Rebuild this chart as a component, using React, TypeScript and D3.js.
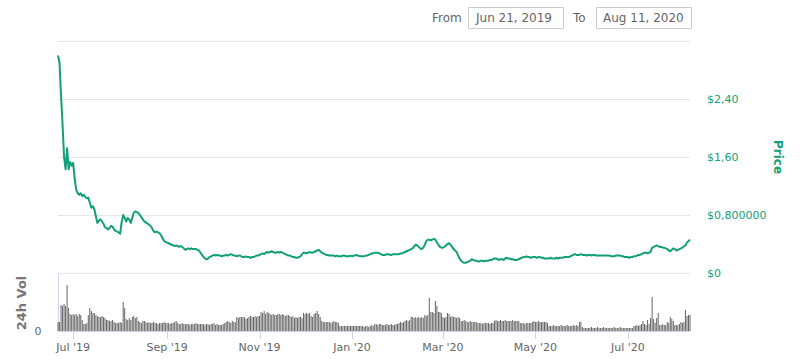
import React from "react";
import * as d3 from "d3";

// daily values from Jun 21, 2019 to Aug 11, 2020
const startDate = new Date(2019, 5, 21);
const endDate = new Date(2020, 7, 11);

const price = [
  3.0, 2.9, 2.45, 2.05, 1.6, 1.43, 1.72, 1.43, 1.53, 1.48, 1.52, 1.3, 1.15, 1.1, 1.08, 1.1, 1.06, 1.08, 1.05, 1.03,
  1.04, 0.97, 0.9, 0.92, 0.88, 0.78, 0.69, 0.72, 0.74, 0.71, 0.68, 0.63, 0.62, 0.6, 0.62, 0.65, 0.64, 0.6, 0.58, 0.57,
  0.56, 0.54, 0.7, 0.8, 0.76, 0.71, 0.76, 0.74, 0.69, 0.76, 0.83, 0.85, 0.84, 0.83, 0.8, 0.77, 0.74, 0.71, 0.7, 0.68,
  0.67, 0.65, 0.62, 0.58, 0.56, 0.57, 0.56, 0.55, 0.52, 0.48, 0.44, 0.43, 0.42, 0.41, 0.4, 0.39, 0.38, 0.37, 0.38, 0.37,
  0.36, 0.37, 0.36, 0.34, 0.32, 0.33, 0.34, 0.33, 0.34, 0.33, 0.33, 0.33, 0.32, 0.31, 0.28, 0.25, 0.22, 0.2, 0.19, 0.2,
  0.22, 0.23, 0.24, 0.25, 0.24, 0.25, 0.24, 0.24, 0.23, 0.24, 0.24, 0.25, 0.24, 0.25, 0.26, 0.25, 0.24, 0.24, 0.23, 0.24,
  0.24, 0.23, 0.22, 0.22, 0.23, 0.22, 0.22, 0.21, 0.22, 0.22, 0.23, 0.24, 0.24, 0.25, 0.26, 0.27, 0.26, 0.28, 0.29, 0.28,
  0.29, 0.3, 0.29, 0.28, 0.28, 0.29, 0.28, 0.29, 0.28, 0.27, 0.26, 0.25, 0.24, 0.24, 0.23, 0.22, 0.22, 0.21, 0.21, 0.22,
  0.23, 0.26, 0.28, 0.28, 0.27, 0.28, 0.29, 0.28, 0.28, 0.29, 0.3, 0.31, 0.32, 0.3, 0.28, 0.27, 0.26, 0.25, 0.25, 0.24,
  0.24, 0.24, 0.24, 0.23, 0.24, 0.23, 0.23, 0.23, 0.24, 0.24, 0.23, 0.23, 0.23, 0.24, 0.23, 0.24, 0.24, 0.25, 0.24, 0.23,
  0.23, 0.23, 0.23, 0.24, 0.24, 0.25, 0.26, 0.27, 0.27, 0.28, 0.28, 0.28, 0.27, 0.26, 0.25, 0.25, 0.25, 0.26, 0.26, 0.25,
  0.25, 0.26, 0.26, 0.26, 0.26, 0.26, 0.27, 0.27, 0.28, 0.29, 0.3, 0.31, 0.32, 0.33, 0.34, 0.37, 0.39, 0.38, 0.36, 0.34,
  0.33, 0.35, 0.39, 0.44, 0.46, 0.46, 0.45, 0.46, 0.47, 0.46, 0.42, 0.39, 0.36, 0.35, 0.35, 0.36, 0.38, 0.4, 0.41, 0.39,
  0.36, 0.33, 0.31, 0.29, 0.24, 0.2, 0.17, 0.15, 0.14, 0.14, 0.15, 0.16, 0.17, 0.19, 0.18, 0.17, 0.17, 0.16, 0.16, 0.17,
  0.17, 0.16, 0.17, 0.17, 0.17, 0.18, 0.18, 0.19, 0.2, 0.2, 0.19, 0.18, 0.19, 0.19, 0.18, 0.2, 0.21, 0.2, 0.2, 0.19,
  0.19, 0.18, 0.18, 0.18, 0.19, 0.2, 0.21, 0.22, 0.22, 0.23, 0.22, 0.22, 0.21, 0.22, 0.22, 0.22, 0.21, 0.22, 0.22, 0.21,
  0.21, 0.2, 0.2, 0.2, 0.2, 0.21, 0.2, 0.2, 0.2, 0.21, 0.2, 0.21, 0.21, 0.21, 0.22, 0.22, 0.22, 0.22, 0.23, 0.24,
  0.25, 0.26, 0.25, 0.25, 0.25, 0.26, 0.25, 0.25, 0.25, 0.24, 0.25, 0.25, 0.24, 0.25, 0.25, 0.24, 0.24, 0.24, 0.24, 0.24,
  0.24, 0.24, 0.24, 0.24, 0.24, 0.23, 0.23, 0.23, 0.24, 0.24, 0.24, 0.24, 0.23, 0.23, 0.22, 0.22, 0.22, 0.21, 0.22, 0.22,
  0.23, 0.23, 0.24, 0.25, 0.25, 0.26, 0.27, 0.28, 0.28, 0.27, 0.28, 0.29, 0.35, 0.36, 0.37, 0.38, 0.37, 0.36, 0.36, 0.35,
  0.35, 0.34, 0.33, 0.31, 0.3, 0.32, 0.34, 0.33, 0.31, 0.32, 0.33, 0.34, 0.35, 0.37, 0.38, 0.42, 0.44, 0.46,
];

// 24h volume, millions
const volume = [
  0.9, 0.9, 2.6, 2.5, 2.7, 2.5, 4.6, 2.3, 1.7, 1.6, 1.7, 1.6, 1.7, 1.5, 1.7, 1.6, 1.1, 0.7, 0.7, 0.8,
  1.6, 2.3, 2.0, 1.8, 1.8, 1.6, 1.5, 1.4, 1.4, 1.5, 1.4, 1.3, 1.1, 1.1, 1.0, 1.0, 1.1, 0.9, 0.8, 0.8,
  0.8, 0.9, 0.8, 2.9, 2.3, 1.2, 1.1, 1.3, 1.1, 1.4, 1.5, 1.3, 1.4, 1.0, 0.9, 0.8, 1.0, 1.0, 0.9, 0.8,
  0.9, 0.8, 0.8, 0.9, 0.8, 0.8, 0.7, 0.8, 0.8, 0.8, 0.9, 0.8, 0.8, 0.8, 0.7, 0.8, 0.8, 0.9, 1.0, 0.8,
  0.7, 0.7, 0.8, 0.7, 0.7, 0.7, 0.7, 0.6, 0.7, 0.7, 0.7, 0.8, 0.7, 0.7, 0.7, 0.7, 0.7, 0.6, 0.7, 0.7,
  0.6, 0.7, 0.7, 0.8, 0.6, 0.7, 0.6, 0.6, 0.6, 0.7, 0.8, 0.9, 1.0, 0.9, 0.8, 1.0, 0.9, 0.9, 1.4, 1.3,
  1.4, 1.4, 1.4, 1.4, 1.2, 1.3, 1.4, 1.5, 1.4, 1.4, 1.5, 1.4, 1.5, 1.5, 1.9, 1.8, 2.0, 1.7, 1.9, 1.8,
  1.7, 1.6, 1.7, 1.6, 1.6, 1.7, 1.7, 1.6, 1.7, 1.6, 1.5, 1.6, 1.6, 1.5, 1.4, 1.5, 1.3, 1.4, 1.3, 1.4,
  1.4, 1.3, 1.8, 1.7, 1.8, 1.7, 1.8, 1.5, 1.4, 1.7, 1.8, 2.0, 1.7, 1.4, 1.0, 0.9, 0.9, 0.9, 0.9, 0.9,
  0.8, 0.9, 1.0, 0.9, 0.9, 0.8, 0.5, 0.5, 0.5, 0.5, 0.5, 0.5, 0.5, 0.5, 0.5, 0.5, 0.5, 0.5, 0.5, 0.5,
  0.5, 0.5, 0.4, 0.5, 0.5, 0.4, 0.5, 0.6, 0.5, 0.7, 0.7, 0.6, 0.7, 0.7, 0.6, 0.6, 0.6, 0.7, 0.6, 0.6,
  0.7, 0.6, 0.6, 0.7, 0.7, 0.8, 0.9, 0.8, 0.9, 1.0, 1.1, 1.0, 1.1, 1.4, 1.4, 1.3, 1.4, 1.3, 1.4, 1.3,
  1.4, 1.3, 1.6, 1.5, 1.6, 3.3, 1.9, 1.9, 1.8, 3.0, 2.5, 1.9, 1.9, 1.8, 1.4, 1.3, 1.4, 1.8, 1.7, 1.4,
  1.5, 1.4, 1.4, 1.3, 1.4, 1.3, 1.0, 1.0, 1.1, 1.0, 0.9, 0.9, 1.0, 0.9, 0.9, 0.9, 0.9, 0.8, 0.8, 0.8,
  0.7, 0.8, 0.8, 0.8, 0.8, 0.7, 0.8, 0.8, 1.0, 1.1, 1.0, 1.0, 1.1, 1.0, 1.0, 1.1, 1.0, 1.0, 1.0, 1.0,
  1.1, 1.0, 1.0, 1.0, 1.0, 0.8, 0.8, 0.8, 0.7, 0.8, 0.8, 0.8, 0.8, 0.9, 1.0, 0.9, 0.9, 1.0, 0.9, 0.9,
  0.9, 0.9, 0.9, 0.8, 0.5, 0.5, 0.5, 0.6, 0.5, 0.5, 0.5, 0.5, 0.6, 0.5, 0.5, 0.5, 0.6, 0.5, 0.5, 0.5,
  0.6, 0.5, 0.6, 0.5, 0.9, 0.9, 0.4, 0.3, 0.3, 0.3, 0.3, 0.3, 0.4, 0.3, 0.3, 0.3, 0.4, 0.3, 0.3, 0.3,
  0.4, 0.3, 0.3, 0.3, 0.3, 0.3, 0.3, 0.4, 0.3, 0.3, 0.3, 0.4, 0.3, 0.3, 0.3, 0.3, 0.3, 0.3, 0.3, 0.3,
  0.5, 0.5, 0.6, 0.5, 0.6, 0.7, 1.0, 0.7, 0.6, 1.1, 0.7, 1.3, 3.4, 1.2, 0.8, 1.3, 1.8, 0.6, 0.6, 0.7,
  0.6, 0.6, 0.9, 0.8, 1.4, 1.2, 1.0, 0.6, 0.6, 0.6, 0.7, 0.9, 0.8, 0.9, 2.1, 1.5, 1.6, 1.6,
];

const priceTicks = [0, 0.8, 1.6, 2.4, 3.2];
const priceTickLabels = ["$0", "$0,800000", "$1,60", "$2,40", ""];
const fromLabel = "Jun 21, 2019";
const toLabel = "Aug 11, 2020";

const green = "#13a077";
const font = "'DejaVu Sans', sans-serif";

export default function App() {
  const width = 800;
  const height = 359;

  const x = d3.scaleTime().domain([startDate, endDate]).range([58, 690]);
  const y = d3.scaleLinear().domain([0, 3.2]).range([273, 41]);
  const yVol = d3.scaleLinear().domain([0, 5.8]).range([331, 273]);

  const days = price.map((_, i) => d3.timeDay.offset(startDate, i));
  const line = d3
    .line<number>()
    .x((_, i) => x(days[i]))
    .y((d) => y(d));

  const monthTicks = x.ticks(d3.timeMonth.every(2)!);
  const fmt = d3.timeFormat("%b '%y");

  return (
    <svg
      width={width}
      height={height}
      style={{ position: "absolute", left: 0, top: 0, fontFamily: font }}
    >
      <rect width={width} height={height} fill="#fff" />

      {/* date range inputs */}
      <text x={432} y={22} fontSize={12} fill="#666">From</text>
      <rect x={468.5} y={7.5} width={95} height={21} fill="#fff" stroke="#ccc" />
      <text x={476} y={22} fontSize={12} fill="#666">{fromLabel}</text>
      <text x={573} y={22} fontSize={12} fill="#666">To</text>
      <rect x={596.5} y={7.5} width={95} height={21} fill="#fff" stroke="#ccc" />
      <text x={603} y={22} fontSize={12} fill="#666">{toLabel}</text>

      {/* price grid */}
      {priceTicks.map((t) => (
        <line key={t} x1={58} x2={690} y1={Math.round(y(t)) + 0.5} y2={Math.round(y(t)) + 0.5} stroke="#e6e6e6" />
      ))}
      {priceTicks.map((t, i) => (
        <text key={"l" + t} x={707} y={y(t) + 4} fontSize={11} fill={green}>
          {priceTickLabels[i]}
        </text>
      ))}
      <text
        transform={`translate(774, ${y(1.6)}) rotate(90)`}
        textAnchor="middle"
        fontSize={12}
        fontWeight="bold"
        fill={green}
      >
        Price
      </text>

      {/* volume panel */}
      <line x1={58.5} x2={58.5} y1={273} y2={331} stroke="#ccd6eb" />
      {volume.map((v, i) => (
        <rect
          key={i}
          x={x(days[i]) - 0.5}
          y={yVol(v)}
          width={1}
          height={yVol(0) - yVol(v)}
          fill="#666"
        />
      ))}
      <line x1={58} x2={690} y1={331.5} y2={331.5} stroke="#ccd6eb" />
      <text x={38} y={yVol(0) + 4} fontSize={11} fill="#666" textAnchor="middle">0</text>
      <text
        transform={`translate(26, ${yVol(2.8)}) rotate(-90)`}
        textAnchor="middle"
        fontSize={13}
        fontWeight="bold"
        fill="#777"
      >
        24h Vol
      </text>

      {/* x axis */}
      {monthTicks.map((t) => (
        <g key={+t}>
          <line x1={Math.round(x(t)) + 0.5} x2={Math.round(x(t)) + 0.5} y1={331} y2={339} stroke="#ccd6eb" />
          <text x={x(t)} y={351} fontSize={11} fill="#666" textAnchor="middle">
            {fmt(t)}
          </text>
        </g>
      ))}

      <path d={line(price) ?? ""} fill="none" stroke={green} strokeWidth={2} strokeLinejoin="round" />
    </svg>
  );
}
